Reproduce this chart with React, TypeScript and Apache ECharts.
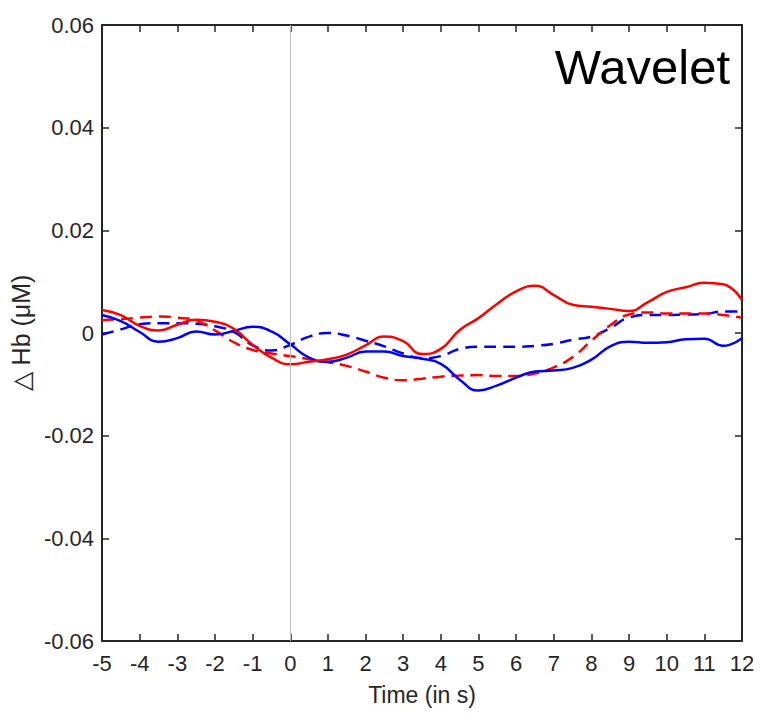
import React, { useEffect, useRef } from "react";
import * as echarts from "echarts";

const times = [-5, -4.5, -4, -3.5, -3, -2.5, -2, -1.5, -1, -0.5, 0, 0.5, 1, 1.5, 2, 2.5, 3, 3.5, 4, 4.5, 5, 5.5, 6, 6.5, 7, 7.5, 8, 8.5, 9, 9.5, 10, 10.5, 11, 11.5, 12];

const redSolid = [0.0045, 0.0035, 0.0014, 0.0005, 0.0016, 0.0026, 0.0022, 0.0008, -0.0023, -0.0048, -0.0061, -0.0056, -0.0051, -0.0042, -0.0024, -0.0007, -0.0016, -0.0041, -0.0031, 0.0006, 0.0029, 0.0057, 0.0081, 0.0092, 0.0074, 0.0055, 0.0051, 0.0047, 0.0043, 0.006, 0.008, 0.0089, 0.0098, 0.0095, 0.0064];

const blueSolid = [0.0035, 0.0023, 0.0002, -0.0017, -0.001, 0.0003, -0.0003, 0.0004, 0.0012, 0.0003, -0.0022, -0.0048, -0.0056, -0.0048, -0.0036, -0.0036, -0.0045, -0.005, -0.006, -0.0091, -0.0112, -0.0102, -0.0087, -0.0075, -0.0073, -0.0068, -0.0052, -0.0026, -0.0017, -0.0019, -0.0018, -0.0012, -0.0011, -0.0025, -0.001];

const blueDashed = [-0.0003, 0.0007, 0.0017, 0.0019, 0.0019, 0.0018, 0.0013, 0.0002, -0.0024, -0.0034, -0.0023, -0.0007, 0.0, -0.0005, -0.0015, -0.0026, -0.004, -0.0049, -0.0045, -0.0031, -0.0027, -0.0027, -0.0027, -0.0025, -0.0021, -0.0013, -0.0007, 0.001, 0.003, 0.0035, 0.0035, 0.0036, 0.0037, 0.0042, 0.0042];

const redDashed = [0.0025, 0.0027, 0.003, 0.0032, 0.003, 0.0024, 0.0005, -0.0018, -0.0033, -0.004, -0.0045, -0.0051, -0.0057, -0.0064, -0.0075, -0.0087, -0.0092, -0.0089, -0.0085, -0.0083, -0.0082, -0.0084, -0.0084, -0.0079, -0.0067, -0.0047, -0.0015, 0.0015, 0.0036, 0.004, 0.0038, 0.0038, 0.0038, 0.0035, 0.003];

const xTitle = "Time (in s)";
const yTitle = "\u25B3 Hb (\u03BCM)";
const panelTitle = "Wavelet";

const FONT = "'Liberation Sans', Arial, sans-serif";
const AX = "#262626";

function pairs(vals: number[]) {
  return times.map((t, i) => [t, vals[i]]);
}

export default function App() {
  const ref = useRef<HTMLDivElement>(null);
  useEffect(() => {
    if (!ref.current) return;
    const chart = echarts.init(ref.current, null, { renderer: "svg" });
    const line = (name: string, vals: number[], color: string, dashed: boolean) => ({
      name,
      type: "line",
      data: pairs(vals),
      smooth: 0.5,
      symbol: "none",
      lineStyle: { color, width: 2.5, type: dashed ? [12, 7] : "solid" },
      z: 3,
    });
    const yfmt = (v: number) => (Math.abs(v) < 1e-9 ? "0" : v.toFixed(2));
    const tick = { show: true, inside: true, length: 7, lineStyle: { color: AX, width: 1.5 } };
    const axLine = { show: true, onZero: false, lineStyle: { color: AX, width: 2 } };
    chart.setOption({
      animation: false,
      backgroundColor: "#fff",
      grid: { left: 100, right: 20, top: 25, bottom: 76 },
      xAxis: [
        {
          type: "value",
          min: -5,
          max: 12,
          interval: 1,
          name: xTitle,
          nameLocation: "middle",
          nameGap: 42,
          nameTextStyle: { fontFamily: FONT, fontSize: 23, color: AX },
          axisLine: axLine,
          axisTick: tick,
          axisLabel: { fontFamily: FONT, fontSize: 22, color: AX, margin: 11 },
          splitLine: { show: false },
        },
        {
          type: "value",
          position: "top",
          min: -5,
          max: 12,
          interval: 1,
          axisLine: axLine,
          axisTick: tick,
          axisLabel: { show: false },
          splitLine: { show: false },
        },
      ],
      yAxis: [
        {
          type: "value",
          min: -0.06,
          max: 0.06,
          interval: 0.02,
          name: yTitle,
          nameLocation: "middle",
          nameGap: 52,
          nameTextStyle: { fontFamily: FONT, fontSize: 25, color: AX },
          axisLine: axLine,
          axisTick: tick,
          axisLabel: { fontFamily: FONT, fontSize: 22, color: AX, margin: 8, formatter: yfmt },
          splitLine: { show: false },
        },
        {
          type: "value",
          position: "right",
          min: -0.06,
          max: 0.06,
          interval: 0.02,
          axisLine: axLine,
          axisTick: tick,
          axisLabel: { show: false },
          splitLine: { show: false },
        },
      ],
      graphic: [
        {
          type: "text",
          right: 32,
          top: 42,
          style: { text: panelTitle, fontFamily: FONT, fontSize: 49, fill: "#000" },
        },
      ],
      series: [
        {
          ...line("blueDashed", blueDashed, "#0000ff", true),
          markLine: {
            silent: true,
            symbol: "none",
            label: { show: false },
            lineStyle: { color: "#bdbdbd", width: 1, type: "solid" },
            data: [{ xAxis: 0 }],
          },
        },
        line("redDashed", redDashed, "#ff0000", true),
        line("blueSolid", blueSolid, "#0000ff", false),
        line("redSolid", redSolid, "#ff0000", false),
      ],
    });
    return () => chart.dispose();
  }, []);
  return (
    <div
      ref={ref}
      style={{ position: "fixed", left: 0, top: 0, width: 762, height: 717 }}
    />
  );
}
